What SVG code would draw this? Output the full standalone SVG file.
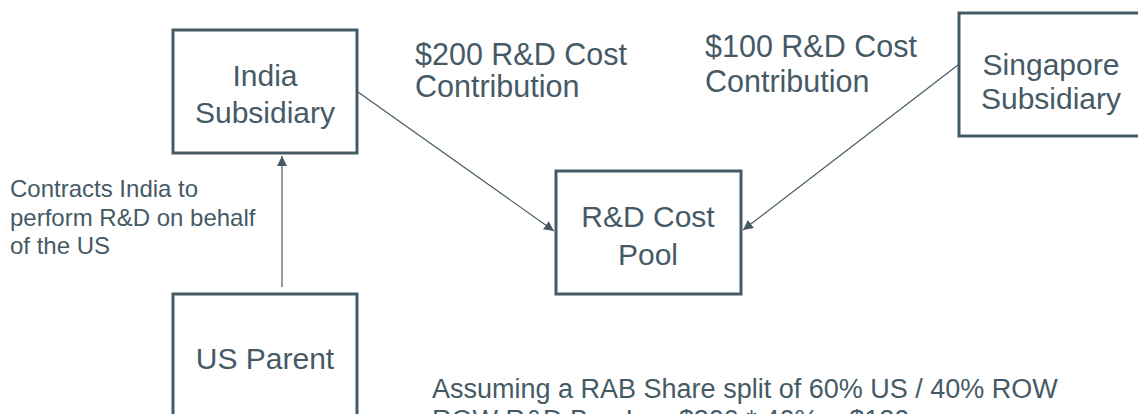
<svg xmlns="http://www.w3.org/2000/svg" width="1138" height="414" viewBox="0 0 1138 414">
<style>
.box{fill:#ffffff;stroke:#465a66;stroke-width:3}
.t{font-family:"Liberation Sans",Arial,sans-serif;fill:#465a66}
.big{font-size:30px}
.lbl{font-size:30.5px}
.note{font-size:27px}
.sm{font-size:24px}
.c{text-anchor:middle}
.conn{stroke:#465a66;stroke-width:1.2;fill:none}
</style>
<defs>
<marker id="ah" viewBox="0 0 10 10" refX="10" refY="5" markerWidth="10" markerHeight="10" markerUnits="userSpaceOnUse" orient="auto">
<path d="M0,0 L10,5 L0,10 z" fill="#465a66"/>
</marker>
</defs>
<rect width="1138" height="414" fill="#ffffff"/>
<g id="connectors">
<line class="conn" x1="282" y1="287" x2="282" y2="156" marker-end="url(#ah)"/>
<line class="conn" x1="358" y1="92" x2="554" y2="231" marker-end="url(#ah)"/>
<line class="conn" x1="958" y1="65" x2="743" y2="230" marker-end="url(#ah)"/>
</g>
<g id="india">
<rect class="box" x="173" y="30" width="184" height="123"/>
<text class="t big c" x="265" y="86">India</text>
<text class="t big c" x="265" y="123">Subsidiary</text>
</g>
<g id="singapore">
<rect class="box" x="959" y="13" width="184" height="123"/>
<text class="t big c" x="1051" y="75">Singapore</text>
<text class="t big c" x="1051" y="109">Subsidiary</text>
</g>
<g id="pool">
<rect class="box" x="556" y="171" width="185" height="123"/>
<text class="t big c" x="648" y="227">R&amp;D Cost</text>
<text class="t big c" x="648" y="265">Pool</text>
</g>
<g id="usparent">
<rect class="box" x="173" y="294" width="184" height="140"/>
<text class="t big c" x="265" y="369">US Parent</text>
</g>
<g id="label-india">
<text class="t lbl" x="415" y="65">$200 R&amp;D Cost</text>
<text class="t lbl" x="415" y="97">Contribution</text>
</g>
<g id="label-singapore">
<text class="t lbl" x="705" y="57">$100 R&amp;D Cost</text>
<text class="t lbl" x="705" y="92">Contribution</text>
</g>
<g id="label-contract">
<text class="t sm" x="10" y="197">Contracts India to</text>
<text class="t sm" x="10" y="226">perform R&amp;D on behalf</text>
<text class="t sm" x="10" y="254">of the US</text>
</g>
<g id="note">
<text class="t note" x="432" y="398">Assuming a RAB Share split of 60% US / 40% ROW</text>
<text class="t note" x="432" y="429">ROW R&amp;D Buy-In = $300 * 40% = $120</text>
</g>
</svg>
